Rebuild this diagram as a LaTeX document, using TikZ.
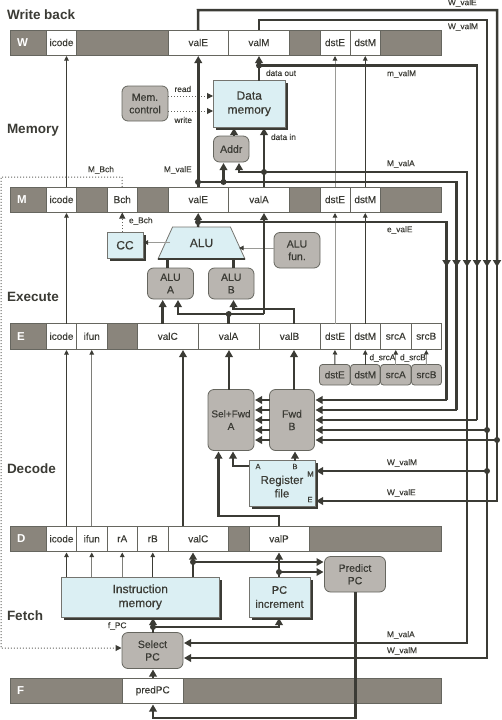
\documentclass[tikz,border=0pt]{standalone}
\usepackage{fontspec}
\setmainfont{Liberation Sans}
\newfontfamily\heavy[FakeBold=0.35]{Liberation Sans}
\newfontfamily\mheavy[FakeBold=0.15]{Liberation Sans}
\usetikzlibrary{arrows.meta,shapes.geometric,shadows}
\definecolor{ln}{HTML}{3B3B35}
\definecolor{gln}{HTML}{9A9A96}
\definecolor{regfill}{HTML}{8A857C}
\definecolor{blfill}{HTML}{DBEFF3}
\definecolor{gyfill}{HTML}{B9B5B0}
\definecolor{bd}{HTML}{66665F}
\newcommand\boxnode[7][]{%
  \pgfmathsetmacro\cxx{(#3+#4)/2}\pgfmathsetmacro\cyy{(#5+#6)/2}%
  \pgfmathsetmacro\ww{#4-#3}\pgfmathsetmacro\hh{#6-#5}%
  \node[#1,minimum width=\ww pt,minimum height=\hh pt] (#2) at (\cxx,\cyy) {#7};}
\tikzset{
  every node/.style={text=ln,inner sep=0pt,outer sep=0pt},
  regb/.style={draw=bd,fill=regfill,line width=.8pt},
  fld/.style={draw=bd,fill=white,line width=.8pt,font=\mheavy\fontsize{10}{12}\selectfont},
  tag/.style={font=\fontsize{11.5}{12}\bfseries\selectfont,text=white,anchor=west},
  stage/.style={font=\fontsize{13.5}{15}\bfseries\selectfont,anchor=west},
  lbl/.style={font=\mheavy\fontsize{8.3}{10}\selectfont,anchor=west},
  blbox/.style={draw=gln!60!ln,fill=blfill,line width=.8pt,align=center,
     font=\heavy\fontsize{12}{14}\selectfont,
     general shadow={fill=ln,shadow xshift=2.5pt,shadow yshift=-2.5pt}},
  gybox/.style={draw=bd,fill=gyfill,line width=.8pt,rounded corners=6pt,align=center,
     font=\heavy\fontsize{10.5}{12.5}\selectfont},
  wire/.style={line width=2.5pt,draw=ln,line join=miter},
  wa/.style={wire,-{Triangle[length=7pt,width=7.5pt,color=ln]},shorten >=1pt},
  thin/.style={line width=1pt,draw=ln,-{Triangle[length=4.5pt,width=4.5pt,color=ln]},shorten >=1pt},
  gthin/.style={thin,draw=gln},
  dots/.style={line width=1pt,draw=ln!80!white,dotted},
  dota/.style={dots,-{Triangle[length=6pt,width=6pt,color=ln]},shorten >=.5pt},
  junction/.style={circle,fill=ln,minimum size=6pt},
}
\begin{document}
\begin{tikzpicture}[x=1pt,y=-1pt]
\useasboundingbox (0,0) rectangle (501,720);
% pipeline registers
\boxnode[regb]{Wreg}{10.5}{441.5}{30}{55}{}
\boxnode[fld]{Wicode}{46.5}{76.5}{30}{55}{icode}
\boxnode[fld]{WvalE}{168}{228.5}{30}{55}{valE}
\boxnode[fld]{WvalM}{228.5}{289.5}{30}{55}{valM}
\boxnode[fld]{WdstE}{320}{350}{30}{55}{dstE}
\boxnode[fld]{WdstM}{350}{380.5}{30}{55}{dstM}
\node[tag] at (17,42.5) {W};
\boxnode[regb]{Mreg}{10.5}{441.5}{187}{212}{}
\boxnode[fld]{Micode}{46.5}{76.5}{187}{212}{icode}
\boxnode[fld]{MBch}{107}{137.5}{187}{212}{Bch}
\boxnode[fld]{MvalE}{168}{228.5}{187}{212}{valE}
\boxnode[fld]{MvalA}{228.5}{289.5}{187}{212}{valA}
\boxnode[fld]{MdstE}{320}{350}{187}{212}{dstE}
\boxnode[fld]{MdstM}{350}{380.5}{187}{212}{dstM}
\node[tag] at (17,199.5) {M};
\boxnode[regb]{Ereg}{10.5}{441.5}{323.5}{349}{}
\boxnode[fld]{Eicode}{46.5}{76.5}{323.5}{349}{icode}
\boxnode[fld]{Eifun}{76.5}{107}{323.5}{349}{ifun}
\boxnode[fld]{EvalC}{137.5}{198}{323.5}{349}{valC}
\boxnode[fld]{EvalA}{198}{259}{323.5}{349}{valA}
\boxnode[fld]{EvalB}{259}{320}{323.5}{349}{valB}
\boxnode[fld]{EdstE}{320}{350}{323.5}{349}{dstE}
\boxnode[fld]{EdstM}{350}{380.5}{323.5}{349}{dstM}
\boxnode[fld]{EsrcA}{380.5}{411}{323.5}{349}{srcA}
\boxnode[fld]{EsrcB}{411}{441.5}{323.5}{349}{srcB}
\node[tag] at (17,336.5) {E};
\boxnode[regb]{Dreg}{10.5}{441.5}{526}{551.5}{}
\boxnode[fld]{Dicode}{46.5}{76.5}{526}{551.5}{icode}
\boxnode[fld]{Difun}{76.5}{107}{526}{551.5}{ifun}
\boxnode[fld]{DrA}{107}{137.5}{526}{551.5}{rA}
\boxnode[fld]{DrB}{137.5}{168}{526}{551.5}{rB}
\boxnode[fld]{DvalC}{168}{228.5}{526}{551.5}{valC}
\boxnode[fld]{DvalP}{249}{309}{526}{551.5}{valP}
\node[tag] at (17,539) {D};
\boxnode[regb]{Freg}{10.5}{441.5}{678}{703.5}{}
\boxnode[fld]{FpredPC}{122.5}{183}{678}{703.5}{predPC}
\node[tag] at (17,691) {F};
% stage names
\node[stage] (sW) at (7,15) {Write back};
\node[stage] (sM) at (7,130) {Memory};
\node[stage] (sE) at (7,297) {Execute};
\node[stage] (sD) at (7,469) {Decode};
\node[stage] (sF) at (7,616) {Fetch};
% blocks
\boxnode[blbox]{dmem}{213.5}{285}{80.5}{127}{Data\\memory}
\boxnode[gybox]{memctl}{122}{168}{86}{121}{Mem.\\control}
\boxnode[gybox]{addr}{213.5}{249}{136}{162}{Addr}
\boxnode[blbox]{cc}{107}{143}{232}{258.5}{CC}
\node[draw=gln!60!ln,fill=blfill,line width=.8pt,trapezium,trapezium stretches=true,trapezium angle=55,
  minimum width=87pt,minimum height=32pt,font=\heavy\fontsize{12}{14}\selectfont] (alu) at (201.5,243) {ALU};
\boxnode[gybox]{aluA}{147.5}{193.5}{268}{299}{ALU\\A}
\boxnode[gybox]{aluB}{208.5}{254}{268}{299}{ALU\\B}
\boxnode[gybox]{alufun}{274}{320}{232.5}{268}{ALU\\fun.}
\boxnode[gybox,rounded corners=3pt,font=\mheavy\fontsize{10}{12}\selectfont]{gdstE}{319.5}{350}{364.5}{385}{dstE}
\boxnode[gybox,rounded corners=3pt,font=\mheavy\fontsize{10}{12}\selectfont]{gdstM}{350.5}{380}{364.5}{385}{dstM}
\boxnode[gybox,rounded corners=3pt,font=\mheavy\fontsize{10}{12}\selectfont]{gsrcA}{380.5}{411}{364.5}{385}{srcA}
\boxnode[gybox,rounded corners=3pt,font=\mheavy\fontsize{10}{12}\selectfont]{gsrcB}{411.5}{441.5}{364.5}{385}{srcB}
\boxnode[gybox,font=\heavy\fontsize{10}{12.5}\selectfont]{fwdA}{208}{254}{389.5}{450.5}{Sel+Fwd\\A}
\boxnode[gybox]{fwdB}{269.5}{314.5}{389.5}{450.5}{Fwd\\B}
\boxnode[blbox,font=\heavy\fontsize{11.5}{13.5}\selectfont]{regf}{249}{315}{460.5}{506.5}{\\[1pt]Register\\file}
\boxnode[blbox]{imem}{61.5}{219}{577}{617}{Instruction\\memory}
\boxnode[blbox,font=\heavy\fontsize{11}{14}\selectfont]{pcinc}{249}{310}{577}{617}{PC\\increment}
\boxnode[gybox]{predpc}{324.5}{385.5}{556.5}{592}{Predict\\PC}
\boxnode[gybox]{selpc}{122}{183}{632.5}{668.5}{Select\\PC}
\draw[wire] (alu.bottom left corner) -- (alu.bottom right corner);
% register-file port letters
\node[lbl,anchor=center,font=\mheavy\fontsize{7.5}{9}\selectfont] (pA) at (258,466.5) {A};
\node[lbl,anchor=center,font=\mheavy\fontsize{7.5}{9}\selectfont] (pB) at (295,466.5) {B};
\node[lbl,anchor=center,font=\mheavy\fontsize{7.5}{9}\selectfont] (pM) at (310.5,474) {M};
\node[lbl,anchor=center,font=\mheavy\fontsize{7.5}{9}\selectfont] (pE) at (310,499.5) {E};
% thin control wires
\draw[thin] ([xshift=5pt]Micode.north) -- ([xshift=5pt]Wicode.south);
\draw[thin] ([xshift=5pt]Eicode.north) -- ([xshift=5pt]Micode.south);
\draw[thin] ([xshift=5pt]Dicode.north) -- ([xshift=5pt]Eicode.south);
\draw[gthin,draw=gln!70!ln] (Difun.north) -- (Eifun.south);
\draw[gthin] (MdstE.north) -- (WdstE.south);
\draw[thin] (MdstM.north) -- (WdstM.south);
\draw[gthin] (EdstE.north) -- (MdstE.south);
\draw[thin] (EdstM.north) -- (MdstM.south);
\draw[thin] (gdstE.north) -- (EdstE.south);
\draw[thin] (gdstM.north) -- (EdstM.south);
\draw[gthin] (gsrcA.north) -- (EsrcA.south);
\draw[gthin] (gsrcB.north) -- (EsrcB.south);
\draw[thin] (66.5,0 |- imem.north) -- ([xshift=5pt]Dicode.south);
\draw[gthin,draw=gln!70!ln] (Difun.south |- imem.north) -- (Difun.south);
\draw[gthin,draw=gln!70!ln] (DrA.south |- imem.north) -- (DrA.south);
\draw[thin] (DrB.south |- imem.north) -- (DrB.south);
\draw[gthin,shorten >=.5pt] (170,242.5) -- (cc.east |- 0,242.5);
\draw[gthin] (alufun.west |- 0,248) -- (238,248);
% dotted control
\draw[dota] (MBch.south |- cc.north) -- (MBch.south);
\draw[dota] (MBch.north) -- (122,177) -- (1,177) -- (1,648) -- (selpc.west |- 0,648);
\draw[dota] (memctl.east |- 0,96) -- (dmem.west |- 0,96);
\draw[dota] (memctl.east |- 0,111) -- (dmem.west |- 0,111);
% named bus corners
\node[junction] (jEx) at (198,222) {};
\node[junction] (jME) at (198,182) {};
\node[junction] (jMA) at (264,172) {};
\node[junction] (jAd) at (223.5,182) {};
\node[junction] (jmM) at (259,65.5) {};
\node[junction] (jEA) at (228.7,314) {};
\node[junction] (jFB4) at (487,430) {};
\node[junction] (jFB5) at (497,440) {};
\node[junction] (jRM) at (487,471) {};
\node[junction] (jvC) at (193,562) {};
\node[junction] (jvP) at (279,572) {};
\node[junction] (jPC) at (153,627) {};
\coordinate (tE) at (446.5,263);
\coordinate (tM) at (456.5,263);
\coordinate (tA) at (467,263);
\coordinate (tm) at (477,263);
\coordinate (tw) at (487,263);
\coordinate (tv) at (497,263);
% data wires: memory and write back
\draw[wa] (MvalE.north) -- (WvalE.south);
\draw[wire] (WvalE.north) -- (198,10) -- (497,10) -- (tv);
\draw[wire] (WvalM.north) -- (259,20) -- (487,20) -- (tw);
\draw[wa] (dmem.north -| jmM) -- (WvalM.south);
\draw[wire] (jmM.center) -- (477,65.5) -- (tm);
\draw[wire] (jMA.center |- MvalA.north) -- (jMA.center);
\draw[wa] (jMA.center) -- (jMA.center |- dmem.south);
\draw[wire] (jMA.center) -- (467,172) -- (tA);
\draw[wa] (jMA.center) -- (239,172) -- (239,0 |- addr.south);
\draw[wire] (jME.center) -- (456.5,182) -- (tM);
\draw[wa] (jAd.center) -- (jAd.center |- addr.south);
\draw[wa] (234,0 |- addr.north) -- (234,0 |- dmem.south);
% execute
\draw[wa] (198,0 |- alu.north) -- (MvalE.south);
\draw[wire] (jEx.center) -- (446.5,222) -- (tE);
\draw[wa] (264,0 |- jEA) -- (264,0 |- MvalA.south);
\draw[wa] (EvalA.north -| jEA) -- (jEA.center) -- (178,314) -- (178,0 |- aluA.south);
\draw[wire] (jEA.center) -- (264,314);
\draw[wa] (EvalB.north -| 294,0) -- (294,309) -- (233.5,309) -- (233.5,0 |- aluB.south);
\draw[wa] (162.7,0 |- EvalC.north) -- (162.7,0 |- aluA.south);
\draw[wire] (aluA.north -| 167.7,0) -- (167.7,0 |- alu.south);
\draw[wire] (aluB.north -| 233.7,0) -- (233.7,0 |- alu.south);
% vertical bus arrowheads
\foreach \c in {tE,tM,tA,tm,tw,tv}
  \draw[wire,-{Triangle[length=7pt,width=8pt,color=ln]}] (\c) -- ++(0,4);
% decode
\draw[wire] (tE) -- (446.5,400);
\draw[wa] (446.5,400) -- (fwdB.east |- 0,400);
\draw[wire] (tM) -- (456.5,410);
\draw[wa] (456.5,410) -- (fwdB.east |- 0,410);
\draw[wire] (tm) -- (477,420);
\draw[wa] (477,420) -- (fwdB.east |- 0,420);
\draw[wa] (jFB4.center) -- (fwdB.east |- jFB4);
\draw[wa] (jFB5.center) -- (fwdB.east |- jFB5);
\draw[wa] (jRM.center) -- (regf.east |- jRM);
\draw[wa] (497,0 |- tv) -- (497,501) -- (regf.east |- 0,501);
\draw[wa] (487,0 |- tw) -- (487,658) -- (selpc.east |- 0,658);
\draw[wa] (467,0 |- tA) -- (467,643) -- (selpc.east |- 0,643);
\foreach \y in {400,410,420,430,440}
  \draw[wa] (fwdB.west |- 0,\y) -- (fwdA.east |- 0,\y);
\draw[wa] (fwdB.north -| 294,0) -- (294,0 |- EvalB.south);
\draw[wa] (fwdA.north -| 229,0) -- (229,0 |- EvalA.south);
\draw[wa] (regf.west |- 0,466) -- (233,466) -- (233,0 |- fwdA.south);
\draw[wa] (295,0 |- regf.north) -- (295,0 |- fwdB.south);
\draw[wa] (279,0 |- DvalP.north) -- (279,516) -- (218.5,516) -- (218.5,0 |- fwdA.south);
\draw[wa] (183,0 |- DvalC.north) -- (183,0 |- EvalC.south);
% fetch
\draw[wa] (193,0 |- imem.north) -- (193,0 |- DvalC.south);
\draw[wa] (jvC.center) -- (predpc.west |- jvC);
\draw[wa] (279,0 |- pcinc.north) -- (279,0 |- DvalP.south);
\draw[wa] (jvP.center) -- (predpc.west |- jvP);
\draw[wa] (selpc.north -| jPC) -- (jPC.center |- imem.south);
\draw[wa] (jPC.center) -- (279,627) -- (279,0 |- pcinc.south);
\draw[wa] (jPC.center |- FpredPC.north) -- (jPC.center |- selpc.south);
\draw[wa] (predpc.south -| 355.5,0) -- (355.5,718) -- (153,718) -- (FpredPC.south -| 153,0);
% wire labels
\node[lbl] at (448,3) {W\_valE};
\node[lbl] at (448,27) {W\_valM};
\node[lbl] at (387,74) {m\_valM};
\node[lbl] at (266,73) {data out};
\node[lbl] at (271,137) {data in};
\node[lbl] at (387,164) {M\_valA};
\node[lbl] at (164,170) {M\_valE};
\node[lbl] at (88,170) {M\_Bch};
\node[lbl] at (129,221) {e\_Bch};
\node[lbl] at (387,230) {e\_valE};
\node[lbl] at (174.5,89) {read};
\node[lbl] at (174.5,120) {write};
\node[lbl] at (369.5,358) {d\_srcA};
\node[lbl] at (400,358) {d\_srcB};
\node[lbl] at (387,463) {W\_valM};
\node[lbl] at (387,493) {W\_valE};
\node[lbl] at (387,635) {M\_valA};
\node[lbl] at (387,651) {W\_valM};
\node[lbl] at (108,626) {f\_PC};
\end{tikzpicture}
\end{document}
